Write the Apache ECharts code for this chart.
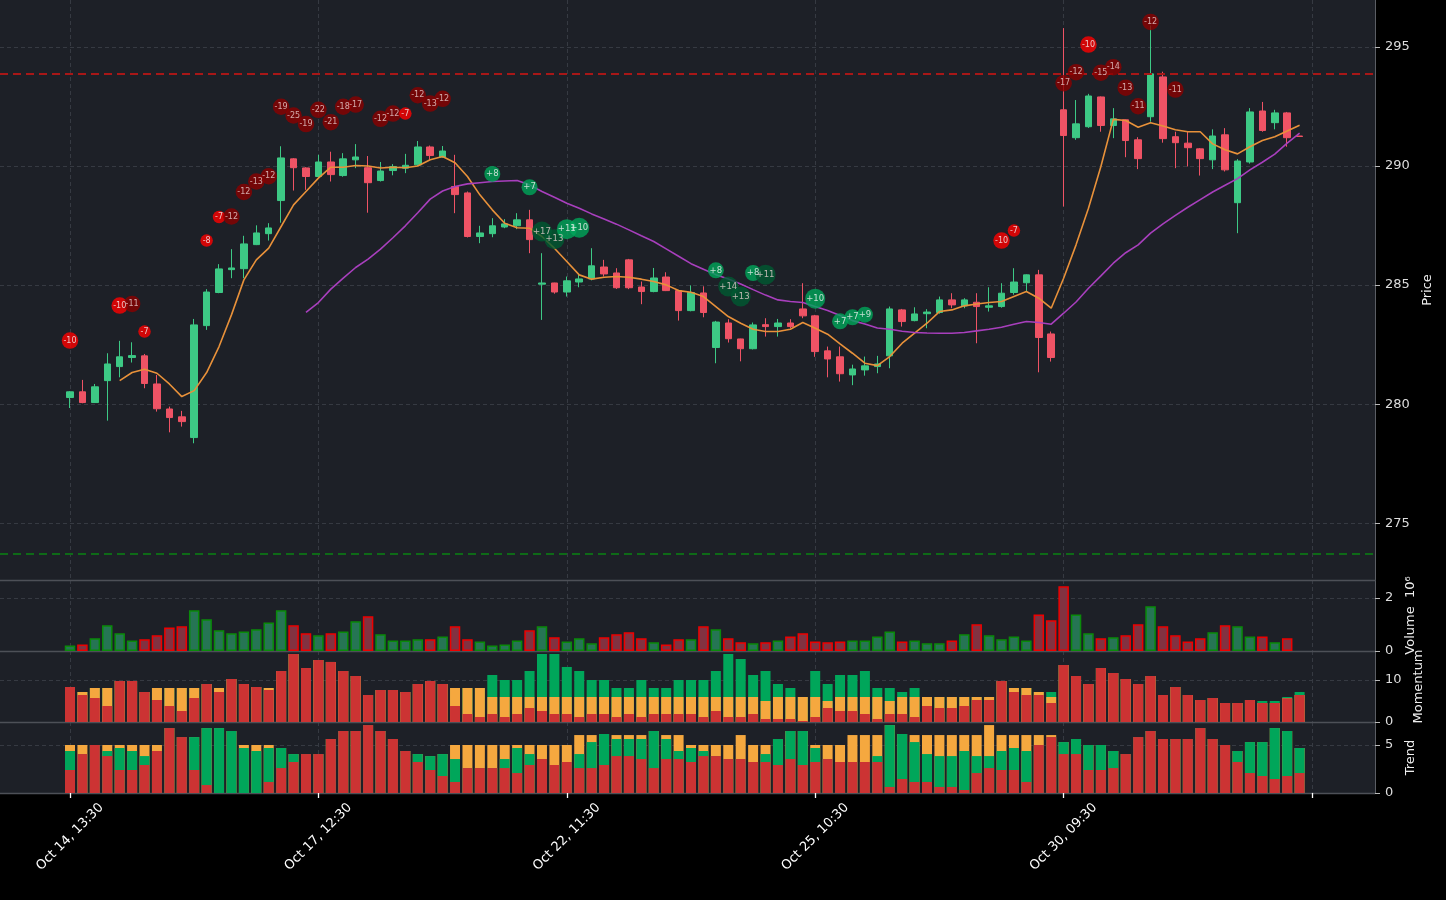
<!DOCTYPE html>
<html><head><meta charset="utf-8">
<script src="https://cdn.jsdelivr.net/npm/echarts@6/dist/echarts.min.js"></script>
<style>html,body{margin:0;padding:0;background:#000;}#c{width:1446px;height:900px;}</style>
</head><body><div id="c"></div>
<script>
// ---------------- DATA ----------------
const tickPos = [0, 20, 40, 60, 80, 100];
const tickLabels = ['Oct 14, 13:30', 'Oct 17, 12:30', 'Oct 22, 11:30', 'Oct 25, 10:30', 'Oct 30, 09:30', ''];

const open = [280.28,280.52,280.07,280.99,281.58,281.96,282.03,280.85,279.80,279.47,
 278.60,283.30,284.69,285.65,285.69,286.70,287.16,288.55,290.30,289.92,
 289.56,290.17,289.60,290.26,289.93,289.39,289.81,289.91,290.05,290.80,
 290.38,289.14,288.87,287.04,287.16,287.44,287.49,287.74,285.04,285.09,
 284.71,285.13,285.26,285.76,285.51,286.06,284.92,284.73,285.34,284.77,
 283.93,284.67,282.38,283.41,282.74,282.33,283.34,283.26,283.41,284.00,
 283.71,282.24,281.99,281.23,281.44,281.58,282.03,283.96,283.51,283.80,
 283.85,284.38,284.13,284.28,284.07,284.10,284.69,285.10,285.43,282.95,
 292.36,291.19,291.65,292.90,291.70,291.94,291.10,292.07,293.74,291.23,
 290.96,290.72,290.26,291.31,288.46,290.17,292.31,291.82,292.23,291.26];
const close = [280.52,280.07,280.73,281.69,281.99,282.04,280.87,279.81,279.44,279.27,
 283.33,284.71,285.68,285.72,286.73,287.19,287.40,290.34,289.93,289.56,
 290.17,289.64,290.30,290.38,289.30,289.79,289.98,290.03,290.80,290.44,
 290.63,288.80,287.04,287.19,287.49,287.57,287.74,286.91,285.09,284.71,
 285.18,285.26,285.81,285.47,284.89,284.89,284.73,285.30,284.77,283.93,
 284.69,283.85,283.45,282.75,282.33,283.33,283.26,283.41,283.26,283.71,
 282.21,281.90,281.28,281.48,281.61,281.69,284.00,283.47,283.79,283.87,
 284.38,284.17,284.38,284.10,284.13,284.66,285.13,285.43,282.80,281.96,
 291.28,291.77,292.94,291.70,291.98,291.07,290.31,293.87,291.15,290.98,
 290.77,290.31,291.26,289.84,290.21,292.27,291.49,292.23,291.19,291.24];
const high = [280.55,281.02,280.85,282.14,282.66,282.60,282.11,281.23,279.90,279.72,
 283.58,284.83,285.88,286.51,287.07,287.51,287.60,290.83,290.33,289.95,
 290.47,290.60,290.54,290.92,290.42,290.17,290.08,290.51,291.05,290.86,
 290.84,290.47,288.93,287.49,287.81,287.77,288.02,288.16,286.34,285.10,
 285.36,285.43,286.55,286.06,285.71,286.10,285.15,285.72,285.54,284.80,
 284.99,284.95,283.50,283.57,282.75,283.43,283.61,283.58,283.57,285.08,
 283.75,282.42,282.42,281.66,282.00,282.03,284.10,284.00,284.07,283.99,
 284.52,284.66,284.45,284.66,284.91,285.08,285.71,285.45,285.64,283.05,
 295.79,292.77,293.03,292.92,292.43,291.95,291.21,295.90,293.96,291.44,
 291.44,290.75,291.54,291.59,290.29,292.43,292.69,292.36,292.27,291.26];
const low = [279.84,280.04,280.05,279.31,281.13,281.75,280.67,279.69,278.82,279.06,
 278.36,283.12,284.66,285.29,285.29,286.68,286.87,287.62,288.97,289.00,
 289.50,289.35,289.55,289.91,288.04,289.35,289.61,289.70,290.00,290.26,
 290.35,288.02,287.00,286.76,287.01,287.39,287.35,286.34,283.54,284.64,
 284.52,284.91,285.20,285.36,284.84,284.83,284.20,284.70,284.75,283.51,
 283.90,283.65,281.72,282.59,281.80,282.30,282.84,282.84,283.20,283.61,
 281.99,281.13,280.95,280.80,281.20,281.30,281.51,283.26,283.48,283.19,
 283.80,284.03,284.03,282.56,283.89,284.05,284.60,284.73,281.34,281.79,
 288.30,291.10,291.60,291.44,291.17,290.37,289.87,291.86,290.98,289.91,
 289.98,289.60,289.87,289.77,287.18,290.10,291.44,291.54,290.81,291.24];

const maShort = [null,null,null,null,280.99,281.33,281.47,281.30,280.85,280.32,
 280.57,281.33,282.42,283.75,285.22,286.06,286.55,287.46,288.37,288.93,
 289.49,289.95,289.95,290.02,290.00,289.92,289.95,289.93,290.00,290.26,
 290.40,290.14,289.56,288.79,288.16,287.60,287.41,287.39,287.04,286.55,
 285.99,285.43,285.25,285.33,285.36,285.33,285.25,285.15,285.01,284.77,
 284.70,284.52,284.10,283.68,283.40,283.15,283.05,283.05,283.15,283.43,
 283.19,282.94,282.53,282.14,281.72,281.62,282.00,282.56,282.98,283.40,
 283.89,283.96,284.13,284.21,284.27,284.31,284.52,284.73,284.45,284.03,
 285.29,286.69,288.23,289.98,291.96,291.91,291.63,291.82,291.68,291.52,
 291.44,291.44,290.93,290.68,290.51,290.81,291.07,291.23,291.47,291.71];
const maLong = [null,null,null,null,null,null,null,null,null,null,
 null,null,null,null,null,null,null,null,null,283.86,
 284.27,284.83,285.29,285.74,286.09,286.51,286.99,287.49,288.04,288.61,
 288.95,289.14,289.25,289.30,289.35,289.37,289.39,289.21,288.93,288.69,
 288.44,288.23,287.99,287.78,287.56,287.32,287.07,286.83,286.52,286.21,
 285.90,285.67,285.44,285.26,285.05,284.81,284.58,284.38,284.31,284.27,
 284.10,283.93,283.72,283.51,283.37,283.20,283.15,283.06,283.01,282.99,
 282.98,282.98,283.01,283.08,283.15,283.23,283.36,283.47,283.43,283.36,
 283.82,284.29,284.87,285.39,285.92,286.36,286.69,287.18,287.57,287.93,
 288.27,288.59,288.91,289.19,289.47,289.84,290.16,290.50,290.96,291.38];

const resistance = 293.87;
const support = 273.74;

const bubbleIdx = [0,4,5,6,11,12,13,14,15,16, 17,18,19,20,21,22,23,25,26,27,
 28,29,30,34,37,38,39,40,41,52, 53,54,55,56,60,62,63,64,75,76, 80,81,82,83,84,85,86,87,89];
const bubblePrice = [282.67,284.14,284.21,283.05,286.87,287.86,287.88,288.91,289.35,289.57,
 292.49,292.12,291.76,292.36,291.84,292.49,292.58,291.98,292.20,292.20,
 292.97,292.62,292.82,289.67,289.11,287.25,286.93,287.35,287.41,285.62,
 284.94,284.52,285.51,285.44,284.43,283.48,283.65,283.76,286.87,287.29,
 293.48,293.94,295.10,293.92,294.15,293.29,292.51,296.05,293.21];
const bubbleVal = [-10,-10,-11,-7,-8,-7,-12,-12,-13,-12, -19,-25,-19,-22,-21,-18,-17,-12,-12,-7,
 -12,-13,-12,8,7,17,13,11,10,8, 14,13,8,11,10,7,7,9,-10,-7, -17,-12,-10,-15,-14,-13,-11,-12,-11];
const bubbleDark = [0,0,1,0,0,0,1,1,1,1, 1,1,1,1,1,1,1,1,1,0, 1,1,1,0,0,1,1,0,0,0,
 1,1,0,1,0,0,0,0,0,0, 1,1,0,1,1,1,1,1,1];

// volume in millions
const volume = [0.21,0.25,0.48,0.97,0.67,0.40,0.44,0.59,0.89,0.93,
 1.54,1.20,0.78,0.67,0.74,0.82,1.08,1.54,0.97,0.67,
 0.59,0.67,0.74,1.12,1.31,0.63,0.40,0.40,0.44,0.44,
 0.55,0.93,0.44,0.36,0.21,0.25,0.40,0.78,0.93,0.52,
 0.36,0.48,0.29,0.52,0.63,0.71,0.48,0.33,0.25,0.44,
 0.44,0.93,0.82,0.48,0.33,0.29,0.33,0.40,0.55,0.67,
 0.36,0.33,0.36,0.40,0.40,0.55,0.74,0.36,0.40,0.29,
 0.29,0.40,0.63,1.01,0.59,0.44,0.55,0.40,1.38,1.16,
 2.44,1.38,0.67,0.48,0.52,0.59,1.01,1.69,0.93,0.59,
 0.36,0.48,0.71,0.97,0.93,0.55,0.55,0.33,0.48,0];

const momRed = [8.33,6.43,5.71,3.81,9.76,9.76,7.14,5.24,3.81,2.62,
 5.71,9.05,7.14,10.24,9.05,8.33,7.62,12.14,16.19,12.86,
 14.76,14.29,12.14,10.95,6.43,7.62,7.62,7.14,9.05,9.76,
 9.05,3.81,1.90,1.19,1.90,1.19,1.90,3.33,2.62,1.90,
 1.90,1.19,1.90,1.90,1.19,1.90,1.19,1.90,1.90,1.90,
 1.90,1.19,2.62,1.19,1.19,1.90,0.71,0.71,0.71,0.24,
 1.19,3.33,2.62,2.62,1.90,0.71,1.90,1.90,1.19,3.81,
 3.33,3.33,3.81,5.24,5.24,9.76,7.14,6.43,6.43,4.52,
 13.57,10.95,9.05,12.86,11.67,10.24,9.05,10.95,6.43,8.33,
 6.43,5.24,5.71,4.52,4.52,5.24,4.52,4.52,5.63,6.43];
const momOrange = [0,0.71,2.39,4.29,0,0,0,2.86,4.29,5.48,
 2.39,0,0.96,0,0,0,0.48,0,0,0,
 0,0,0,0,0,0,0,0,0,0,
 0,4.29,6.20,6.91,4.05,4.76,4.05,2.62,3.33,4.05,
 4.05,4.76,4.05,4.05,4.76,4.05,4.76,4.05,4.05,4.05,
 4.05,4.76,3.33,4.76,4.76,4.05,4.29,5.24,5.24,5.71,
 4.76,1.67,3.33,3.33,4.05,5.24,3.10,4.05,4.76,2.14,
 2.62,2.62,2.14,0.71,0.71,0,0.96,1.67,0.71,1.43,
 0,0,0,0,0,0,0,0,0,0,
 0,0,0,0,0,0,0,0,0,0];
const momGreen = [0,0,0,0,0,0,0,0,0,0,
 0,0,0,0,0,0,0,0,0,0,
 0,0,0,0,0,0,0,0,0,0,
 0,0,0,0,5.24,4.05,4.05,6.19,10.24,10.24,
 7.15,6.19,4.05,4.05,2.15,2.15,4.05,2.15,2.15,4.05,
 4.05,4.05,6.19,10.24,9.05,5.24,7.14,3.10,2.15,0,
 6.19,4.05,5.24,5.24,6.19,2.15,3.10,1.19,2.15,0,
 0,0,0,0,0,0,0,0,0,1.19,
 0,0,0,0,0,0,0,0,0,0,
 0,0,0,0,0,0,0.48,0.48,0.32,0.71];

const trRed = [2.40,4.06,5.00,3.85,2.40,2.40,2.92,4.38,6.77,5.83,
 2.40,0.83,0,0,0,0,1.15,2.60,3.23,4.06,
 4.06,5.63,6.46,6.46,7.08,6.46,5.63,4.38,3.23,2.40,
 1.77,1.15,2.60,2.60,2.60,2.60,2.08,2.92,3.54,2.92,
 3.23,2.60,2.60,2.92,3.85,3.85,3.54,2.60,3.54,3.54,
 3.23,3.85,3.85,3.54,3.54,3.23,3.23,2.92,3.54,2.92,
 3.23,3.54,3.23,3.23,3.23,3.23,0.63,1.46,1.15,1.15,
 0.63,0.63,0.31,2.08,2.60,2.40,2.40,1.15,5.00,5.83,
 4.06,4.06,2.40,2.40,2.60,4.06,5.83,6.46,5.63,5.63,
 5.63,6.77,5.63,5.00,3.23,2.08,1.77,1.46,1.77,2.08];
const trGreen = [1.98,0,0,0.53,2.29,1.98,0.93,0,0,0,
 3.43,5.94,6.77,6.46,4.69,4.38,3.54,2.09,0.83,0,
 0,0,0,0,0,0,0,0,0.83,1.45,
 2.29,2.39,0,0,0,0.94,2.61,1.14,0,0,
 0,1.46,2.71,3.23,1.78,1.78,2.09,3.86,2.09,0.84,
 1.46,0.53,0,0,0,0,0.83,2.71,2.92,3.54,
 1.46,0,0,0,0,0.62,6.45,4.69,4.16,2.91,
 3.22,3.22,4.07,1.77,1.25,1.98,2.29,3.23,0,0,
 1.25,1.57,2.60,2.60,1.78,0,0,0,0,0,
 0,0,0,0,1.15,3.23,3.54,5.31,4.69,2.61];
const trOrange = [0.62,0.94,0,0.62,0.31,0.62,1.15,0.62,0,0,
 0,0,0,0,0.31,0.62,0.31,0,0,0,
 0,0,0,0,0,0,0,0,0,0,
 0,1.46,2.40,2.40,2.40,1.46,0.31,0.94,1.46,2.08,
 1.77,1.98,0.73,0,0.41,0.41,0.41,0,0.41,1.66,
 0.31,0.62,1.15,1.46,2.50,1.77,0.94,0,0,0,
 0.31,1.46,1.77,2.81,2.81,2.19,0,0,0.73,1.98,
 2.19,2.19,1.66,2.19,3.23,1.66,1.35,1.66,1.04,0.21,
 0,0,0,0,0,0,0,0,0,0,
 0,0,0,0,0,0,0,0,0,0];

// ---------------- CHART ----------------
const XMIN = -5.636, XMAX = 105.07;
const GRID_BG = '#1d2027';
const SPLIT = { color: '#363a42', type: [4, 3], width: 1 };
const C_UP = '#3dc985', C_DN = '#ef5365';
const M_RED = '#cc3333', M_ORA = '#f5a83f', M_GRN = '#00a65a';
const FONT = 'DejaVu Sans';

const grids = [
  { left: 0, right: 71, top: 0, height: 580 },
  { left: 0, right: 71, top: 580, height: 71 },
  { left: 0, right: 71, top: 651, height: 71 },
  { left: 0, right: 71, top: 722, height: 71 }
].map(g => Object.assign(g, { show: true, backgroundColor: GRID_BG, borderWidth: 0, containLabel: false, outerBoundsMode: 'none' }));

function xAxisCfg(gi, bottom) {
  return {
    type: 'value', gridIndex: gi, min: XMIN, max: XMAX,
    axisLine: { show: true, onZero: false, lineStyle: { color: '#4d5057', width: 1.3 } },
    axisTick: { show: bottom, customValues: tickPos, length: 5, lineStyle: { color: '#ffffff', width: 1.3 } },
    axisLabel: {
      show: bottom, customValues: tickPos.slice(0, 5), rotate: 45, align: 'center', verticalAlign: 'middle',
      margin: 44, color: '#ffffff', fontSize: 13, fontFamily: FONT,
      formatter: v => { const k = tickPos.indexOf(Math.round(v)); return k >= 0 ? tickLabels[k] : ''; }
    },
    splitLine: { show: true, lineStyle: SPLIT }
  };
}
function yAxisCfg(gi, min, max, ticks, name, gap) {
  return {
    type: 'value', gridIndex: gi, position: 'right', min: min, max: max,
    axisLine: { show: true, onZero: false, lineStyle: { color: '#5b5e64', width: 1 } },
    axisTick: { show: true, customValues: ticks, length: 5, lineStyle: { color: '#bbbbbb' } },
    axisLabel: { customValues: ticks, color: '#dddddd', fontSize: 13, fontFamily: FONT, margin: 10 },
    splitLine: { show: true, lineStyle: SPLIT },
    name: name, nameLocation: 'middle', nameRotate: 90, nameGap: gap,
    nameTextStyle: { color: '#eeeeee', fontSize: 13, fontFamily: FONT }
  };
}

const idx = open.map((_, i) => i);
const candleData = idx.map(i => [i, open[i], close[i], low[i], high[i]]);
const lineData = arr => arr.map((v, i) => v == null ? null : [i, v]).filter(d => d);

const bubbleData = bubbleIdx.map((x, k) => {
  const v = bubbleVal[k];
  const neg = v < 0;
  const dark = bubbleDark[k] === 1;
  const color = neg ? (dark ? '#8b0000' : '#ff0000') : (dark ? '#005a32' : '#00a65a');
  const size = neg ? (Math.abs(v) <= 8 ? 12.5 : 16.5) : (Math.abs(v) <= 9 ? 16 : 20);
  return {
    value: [x, bubblePrice[k], v], symbolSize: size,
    itemStyle: { color: color },
    label: { fontSize: neg ? 8 : 8.5, color: dark ? '#e8d0d0' : '#f4f4f4' }
  };
});

const volData = volume.map((v, i) => v > 0 ? ({
  value: [i, v],
  itemStyle: close[i] >= open[i]
    ? { color: '#267554', borderColor: '#0a8a0a', borderWidth: 1.5 }
    : { color: '#823241', borderColor: '#ee0000', borderWidth: 1.5 }
}) : null).filter(d => d);

function stackedTops(parts) {
  const out = []; let acc = idx.map(() => 0);
  parts.forEach(p => { acc = acc.map((a, i) => a + p[i]); out.push(acc.slice()); });
  return out;
}
const momTops = stackedTops([momRed, momOrange, momGreen]);
const trTops = stackedTops([trRed, trGreen, trOrange]);
function barSeries(ax, tops, color) {
  return {
    type: 'bar', xAxisIndex: ax, yAxisIndex: ax, barWidth: 10, barGap: '-100%',
    data: tops.map((v, i) => [i, v]), itemStyle: { color: color }, silent: true
  };
}

const option = {
  backgroundColor: '#000000',
  animation: false,
  textStyle: { fontFamily: FONT },
  grid: grids,
  xAxis: [xAxisCfg(0, false), xAxisCfg(1, false), xAxisCfg(2, false), xAxisCfg(3, true)],
  yAxis: [
    yAxisCfg(0, 272.62, 296.97, [275, 280, 285, 290, 295], 'Price', 37),
    yAxisCfg(1, 0, 2.68, [0, 2], 'Volume  10\u2076', 26),
    yAxisCfg(2, 0, 16.9, [0, 10], 'Momentum', 33),
    yAxisCfg(3, 0, 7.4, [0, 5], 'Trend', 12)
  ],
  series: [
    {
      type: 'candlestick', xAxisIndex: 0, yAxisIndex: 0, barWidth: 7,
      encode: { x: 0, y: [1, 2, 3, 4] },
      data: candleData,
      itemStyle: { color: C_UP, color0: C_DN, borderColor: C_UP, borderColor0: C_DN, borderWidth: 1 },
      markLine: {
        silent: true, symbol: ['none', 'none'], label: { show: false },
        data: [
          { yAxis: resistance, lineStyle: { color: '#a81717', type: [8, 5], width: 2.2 } },
          { yAxis: support, lineStyle: { color: '#0e6a17', type: [8, 5], width: 2.2 } }
        ]
      }
    },
    {
      type: 'line', xAxisIndex: 0, yAxisIndex: 0, data: lineData(maShort), showSymbol: false,
      lineStyle: { color: '#e8913a', width: 1.6 }, z: 3, silent: true
    },
    {
      type: 'line', xAxisIndex: 0, yAxisIndex: 0, data: lineData(maLong), showSymbol: false,
      lineStyle: { color: '#a83fbd', width: 1.6 }, z: 3, silent: true
    },
    {
      type: 'scatter', xAxisIndex: 0, yAxisIndex: 0, z: 5, data: bubbleData,
      label: {
        show: true, position: 'inside', fontFamily: FONT,
        formatter: p => (p.value[2] > 0 ? '+' : '') + p.value[2]
      }
    },
    { type: 'bar', xAxisIndex: 1, yAxisIndex: 1, barWidth: 10.5, data: volData, silent: true },
    barSeries(2, momTops[2], M_GRN),
    barSeries(2, momTops[1], M_ORA),
    barSeries(2, momTops[0], M_RED),
    barSeries(3, trTops[2], M_ORA),
    barSeries(3, trTops[1], M_GRN),
    barSeries(3, trTops[0], M_RED)
  ]
};

const chart = echarts.init(document.getElementById('c'), null, { renderer: 'canvas', width: 1446, height: 900 });
chart.setOption(option);
</script></body></html>
